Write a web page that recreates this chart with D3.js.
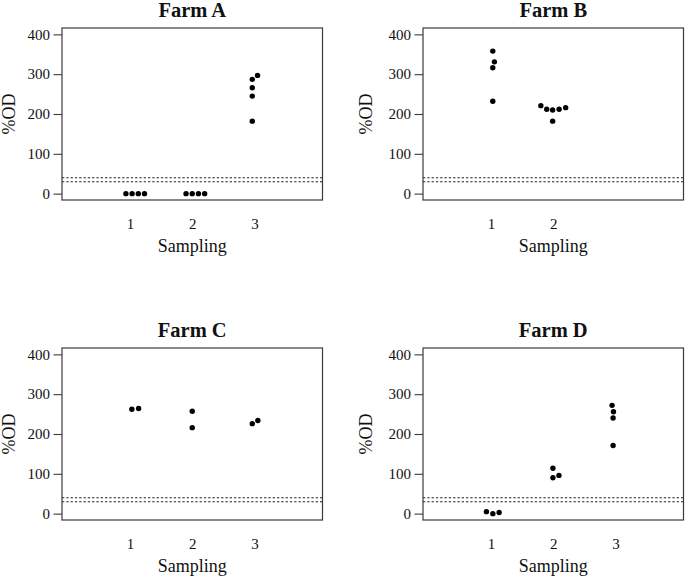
<!DOCTYPE html>
<html>
<head>
<meta charset="utf-8">
<script src="https://cdn.jsdelivr.net/npm/d3@7"></script>
<style>
  html, body { margin: 0; padding: 0; background: #fff; }
  svg { display: block; }
  text { font-family: "Liberation Serif", "Times New Roman", serif; fill: #111; }
</style>
</head>
<body>
<svg id="chart" width="685" height="577"></svg>
<script>
// ---- data ----
const farmTitles = ["Farm A", "Farm B", "Farm C", "Farm D"];
const samplingA = ["1", "2", "3"];
const samplingB = ["1", "2"];
const samplingC = ["1", "2", "3"];
const samplingD = ["1", "2", "3"];

// %OD values per sampling
const farmAValues = [[0, 0, 0, 0], [0, 0, 0, 0], [297, 287, 266, 245, 182]];
const farmBValues = [[358, 331, 316, 232], [221, 212, 210, 212, 216, 182]];
const farmCValues = [[262, 264], [257, 216], [226, 234]];
const farmDValues = [[5, 0, 3], [114, 90, 96], [272, 256, 240, 171]];

// beeswarm side offsets (in dot-widths)
const farmAOffsets = [[-0.65, 0.35, 1.35, 2.35], [-1, 0, 1, 2], [0.48, -0.37, -0.37, -0.37, -0.37]];
const farmBOffsets = [[0.3, 0.56, 0.3, 0.3], [-2, -1.05, -0.1, 0.95, 2, -0.1]];
const farmCOffsets = [[0.31, 1.4], [0, 0], [-0.37, 0.53]];
const farmDOffsets = [[-0.73, 0.31, 1.32], [-0.05, -0.05, 0.92], [-0.56, -0.34, -0.4, -0.4]];

const yTicks = [0, 100, 200, 300, 400];
const cutoffs = [30, 40];
const yLimits = [0, 400];
const xLimits = [0, 4];

// ---- layout ----
const svg = d3.select("#chart");
const panels = [
  { title: farmTitles[0], cats: samplingA, vals: farmAValues, offs: farmAOffsets, x0: 62,  y0: 28,  ylabDx: 47 },
  { title: farmTitles[1], cats: samplingB, vals: farmBValues, offs: farmBOffsets, x0: 423, y0: 28,  ylabDx: 51 },
  { title: farmTitles[2], cats: samplingC, vals: farmCValues, offs: farmCOffsets, x0: 62,  y0: 348, ylabDx: 47 },
  { title: farmTitles[3], cats: samplingD, vals: farmDValues, offs: farmDOffsets, x0: 423, y0: 348, ylabDx: 51 }
];
const W = 260.5, H = 172;
const dotR = 2.7, dotStep = 6.2;
const boxColor = "#3a3a3a";
const serif = "Liberation Serif";

panels.forEach(p => {
  const g = svg.append("g").attr("transform", `translate(${p.x0},${p.y0})`);
  const xr = xLimits[1] - xLimits[0], yr = yLimits[1] - yLimits[0];
  const x = d3.scaleLinear()
    .domain([xLimits[0] - 0.0225 * xr, xLimits[1] + 0.0225 * xr])
    .range([0, W]);
  const y = d3.scaleLinear()
    .domain([yLimits[0] - 0.04 * yr, yLimits[1] + 0.04 * yr])
    .range([H, 0]);

  // cutoff dotted lines
  g.selectAll("line.cut").data(cutoffs).join("line")
    .attr("class", "cut")
    .attr("x1", 0).attr("x2", W)
    .attr("y1", d => y(d)).attr("y2", d => y(d))
    .attr("stroke", "#222").attr("stroke-width", 1.1)
    .attr("stroke-dasharray", "2.3,2");

  // y axis
  const yAxis = d3.axisLeft(y).tickValues(yTicks).tickSize(8.5).tickPadding(3.5).tickFormat(d3.format("d"));
  const ya = g.append("g").call(yAxis).attr("font-family", serif).attr("font-size", 15);
  ya.select(".domain").remove();
  ya.selectAll("line").attr("stroke", boxColor).attr("stroke-width", 1.1);
  ya.selectAll("text").attr("fill", "#222");

  // x axis labels (no line / ticks)
  const xa = g.append("g").attr("transform", `translate(0,${H})`)
    .call(d3.axisBottom(x).tickValues(p.cats.map(Number)).tickSize(0).tickPadding(18).tickFormat(d3.format("d")))
    .attr("font-family", serif).attr("font-size", 15);
  xa.select(".domain").remove();
  xa.selectAll("text").attr("fill", "#222");

  // points
  const pts = [];
  p.vals.forEach((arr, i) => arr.forEach((v, j) => pts.push({ s: +p.cats[i], v, o: p.offs[i][j] })));
  g.selectAll("circle").data(pts).join("circle")
    .attr("cx", d => x(d.s) + d.o * dotStep)
    .attr("cy", d => y(d.v))
    .attr("r", dotR)
    .attr("fill", "#000");

  // box
  g.append("rect").attr("x", 0).attr("y", 0).attr("width", W).attr("height", H)
    .attr("fill", "none").attr("stroke", boxColor).attr("stroke-width", 1.2);

  // title
  g.append("text").attr("x", W / 2).attr("y", -11.5)
    .attr("text-anchor", "middle").attr("font-size", 20.5).attr("font-weight", "bold")
    .text(p.title);

  // axis titles
  g.append("text").attr("x", W / 2).attr("y", H + 51.5)
    .attr("text-anchor", "middle").attr("font-size", 18).text("Sampling");
  g.append("text").attr("transform", `translate(${-p.ylabDx},${H / 2}) rotate(-90)`)
    .attr("text-anchor", "middle").attr("font-size", 18).text("%OD");
});
</script>
</body>
</html>
